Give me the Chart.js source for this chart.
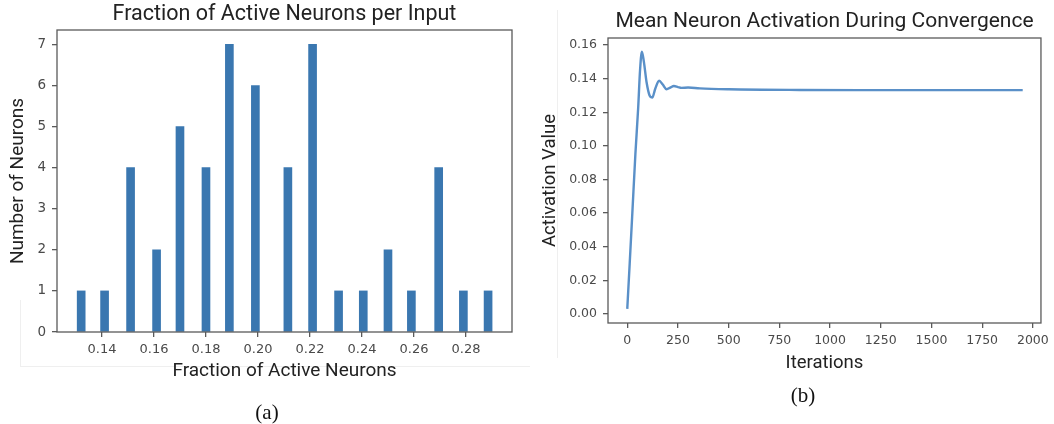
<!DOCTYPE html>
<html>
<head>
<meta charset="utf-8">
<script src="https://cdn.jsdelivr.net/npm/chart.js@4.4.0/dist/chart.umd.min.js"></script>
<style>
  body { margin: 0; background: #fff; width: 1054px; height: 424px; position: relative; overflow: hidden; }
  .box { position: absolute; top: 0; height: 400px; }
  #left { left: 0; width: 530px; }
  #right { left: 530px; width: 524px; }
  .cap { position: absolute; font-family: "Liberation Serif", "Times New Roman", serif; font-size: 21px; color: #111; transform: translate(-50%, -50%); }
  .faint { position: absolute; background: #efefef; }
</style>
</head>
<body>
<div class="faint" style="left:20px; top:366px; width:510px; height:1px"></div>
<div class="faint" style="left:20px; top:300px; width:1px; height:66px"></div>
<div class="faint" style="left:557px; top:10px; width:1px; height:348px"></div>
<div class="box" id="left"><canvas id="hist"></canvas></div>
<div class="box" id="right"><canvas id="conv"></canvas></div>
<div class="cap" style="left:267px; top:412px">(a)</div>
<div class="cap" style="left:803px; top:395px">(b)</div>
<script>
// ---- graphique (a) : histogramme ----
const binCenters = [0.132, 0.141, 0.151, 0.161, 0.170, 0.180, 0.189, 0.199, 0.2115, 0.221, 0.231, 0.2405, 0.250, 0.259, 0.2695, 0.279, 0.2885];
const neuronCounts = [1, 1, 4, 2, 5, 4, 7, 6, 4, 7, 1, 1, 2, 1, 4, 1, 1];
const histXTicks = [0.14, 0.16, 0.18, 0.20, 0.22, 0.24, 0.26, 0.28];
const histYTicks = [0, 1, 2, 3, 4, 5, 6, 7];

// ---- graphique (b) : convergence ----
const iterations = [0, 12, 25, 40, 54, 63, 72, 82, 95, 110, 123, 138, 157, 175, 194, 212, 230, 250, 267, 300, 358, 500, 850, 1200, 1600, 1950];
const activation = [0.003, 0.030, 0.060, 0.095, 0.123, 0.145, 0.156, 0.150, 0.138, 0.130, 0.1287, 0.134, 0.1388, 0.1365, 0.1337, 0.1347, 0.1356, 0.135, 0.1345, 0.1347, 0.1342, 0.1337, 0.1333, 0.1332, 0.1332, 0.1332];
const convXTicks = [0, 250, 500, 750, 1000, 1250, 1500, 1750, 2000];
const convYTicks = [0, 0.02, 0.04, 0.06, 0.08, 0.10, 0.12, 0.14, 0.16];

const frameColor = '#5a5a5a';
const tickColor = '#4a4a4a';

// cadre complet autour de la zone du graphique (style matplotlib)
const framePlugin = {
  id: 'frame',
  afterDraw(chart) {
    const a = chart.chartArea;
    const ctx = chart.ctx;
    ctx.save();
    ctx.strokeStyle = frameColor;
    ctx.lineWidth = 1.3;
    ctx.strokeRect(a.left, a.top, a.right - a.left, a.bottom - a.top);
    ctx.restore();
  }
};

function axisStyle(fontSize) {
  return {
    grid: { drawOnChartArea: false, drawTicks: true, tickLength: 5, offset: false, color: frameColor, lineWidth: 1.3 },
    border: { display: false },
    ticks: { color: tickColor, font: { family: 'DejaVu Sans', size: fontSize }, maxRotation: 0, autoSkip: false }
  };
}

// chart (a)
const histX = axisStyle(13);
const histY = axisStyle(13.5);
new Chart(document.getElementById('hist').getContext('2d'), {
  type: 'bar',
  data: {
    datasets: [{
      data: binCenters.map((x, i) => ({ x: x, y: neuronCounts[i] })),
      backgroundColor: '#3a77b0',
      borderWidth: 0,
      barThickness: 8
    }]
  },
  options: {
    responsive: true,
    maintainAspectRatio: false,
    animation: false,
    layout: { padding: { top: 0, right: 18, bottom: 13.6, left: 0 } },
    plugins: {
      legend: { display: false },
      tooltip: { enabled: false },
      title: {
        display: true,
        fullSize: false,
        text: 'Fraction of Active Neurons per Input',
        color: '#222',
        font: { family: 'Roboto', size: 21.5, weight: 'normal' },
        padding: { top: 2.1, bottom: 2.1 }
      }
    },
    scales: {
      x: {
        ...histX,
        type: 'linear',
        offset: false,
        min: 0.1227,
        max: 0.2977,
        afterBuildTicks: s => { s.ticks = histXTicks.map(v => ({ value: v })); },
        afterFit: s => { s.height = 54.4; },
        ticks: { ...histX.ticks, padding: 5, callback: v => v.toFixed(2) },
        title: { display: true, text: 'Fraction of Active Neurons', color: '#222', font: { family: 'Roboto', size: 19 }, padding: { top: 4, bottom: 4 } }
      },
      y: {
        ...histY,
        min: 0,
        max: 7.35,
        afterBuildTicks: s => { s.ticks = histYTicks.map(v => ({ value: v })); },
        afterFit: s => { s.width = 57; },
        ticks: { ...histY.ticks, padding: 6 },
        title: { display: true, text: 'Number of Neurons', color: '#222', font: { family: 'Roboto', size: 19 }, padding: { top: 6.6, bottom: 4 } }
      }
    }
  },
  plugins: [framePlugin]
});

// chart (b)
const convX = axisStyle(12.5);
const convY = axisStyle(12.5);
new Chart(document.getElementById('conv').getContext('2d'), {
  type: 'line',
  data: {
    datasets: [{
      data: iterations.map((x, i) => ({ x: x, y: activation[i] })),
      borderColor: '#5a90c8',
      borderWidth: 2.4,
      pointRadius: 0,
      fill: false,
      cubicInterpolationMode: 'monotone'
    }]
  },
  options: {
    responsive: true,
    maintainAspectRatio: false,
    animation: false,
    layout: { padding: { top: 0, right: 12, bottom: 21.9, left: 0 } },
    plugins: {
      legend: { display: false },
      tooltip: { enabled: false },
      title: {
        display: true,
        fullSize: false,
        text: 'Mean Neuron Activation During Convergence',
        color: '#222',
        font: { family: 'Roboto', size: 21, weight: 'normal' },
        padding: { top: 9.4, bottom: 3.4 }
      }
    },
    scales: {
      x: {
        ...convX,
        type: 'linear',
        min: -95,
        max: 2040,
        afterBuildTicks: s => { s.ticks = convXTicks.map(v => ({ value: v })); },
        afterFit: s => { s.height = 55.1; },
        ticks: { ...convX.ticks, padding: 5, callback: v => String(v) },
        title: { display: true, text: 'Iterations', color: '#222', font: { family: 'Roboto', size: 18.5 }, padding: { top: 4, bottom: 4 } }
      },
      y: {
        ...convY,
        min: -0.0054,
        max: 0.1642,
        afterBuildTicks: s => { s.ticks = convYTicks.map(v => ({ value: v })); },
        afterFit: s => { s.width = 78; },
        ticks: { ...convY.ticks, padding: 6, callback: v => v.toFixed(2) },
        title: { display: true, text: 'Activation Value', color: '#222', font: { family: 'Roboto', size: 18.5 }, padding: { top: 8.9, bottom: 4 } }
      }
    }
  },
  plugins: [framePlugin]
});
</script>
</body>
</html>
